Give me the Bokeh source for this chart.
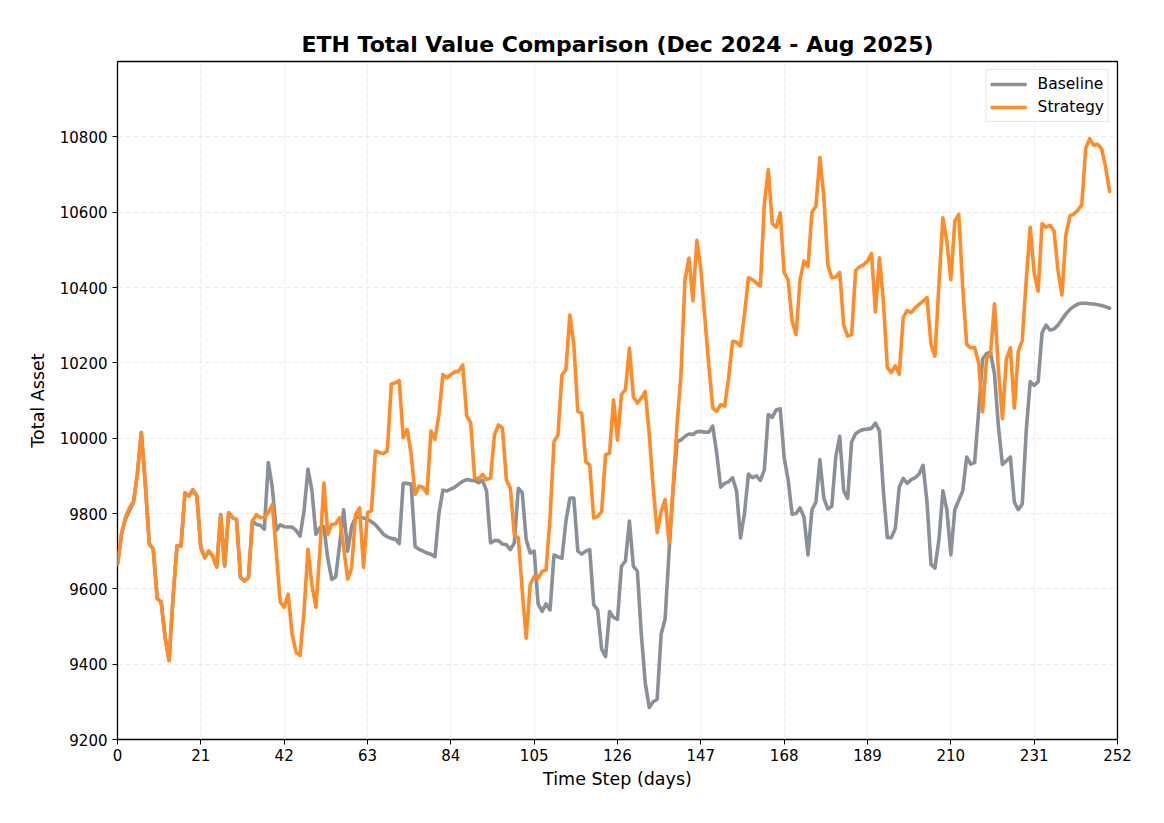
from bokeh.plotting import figure
from bokeh.models import Range1d, FixedTicker, Legend, LegendItem
from bokeh.embed import file_html
from bokeh.resources import INLINE

days = list(range(251))

baseline = [
    9665, 9745, 9785, 9808, 9828, 9905, 10015, 9880, 9720, 9705,
    9575, 9565, 9471, 9410, 9577, 9714, 9714, 9855, 9846, 9863,
    9846, 9709, 9683, 9700, 9687, 9658, 9797, 9661, 9802, 9789,
    9784, 9630, 9621, 9630, 9780, 9771, 9769, 9758, 9935, 9870,
    9755, 9770, 9765, 9764, 9764, 9755, 9740, 9806, 9918, 9860,
    9745, 9762, 9765, 9680, 9625, 9632, 9720, 9810, 9700, 9765,
    9790, 9790, 9788, 9785, 9778, 9770, 9758, 9745, 9738, 9734,
    9732, 9720, 9880, 9880, 9878, 9712, 9705, 9700, 9695, 9692,
    9685, 9800, 9862, 9860, 9865, 9870, 9878, 9885, 9890, 9888,
    9887, 9882, 9888, 9860, 9722, 9728, 9728, 9719, 9717, 9704,
    9722, 9867, 9855, 9730, 9695, 9700, 9560, 9540, 9560, 9544,
    9690, 9685, 9681, 9779, 9841, 9841, 9700, 9692, 9700, 9704,
    9558, 9544, 9440, 9420, 9540, 9524, 9519, 9660, 9674, 9780,
    9660, 9647, 9480, 9350, 9285, 9300, 9307, 9480, 9520, 9700,
    9860, 9991, 9995, 10005, 10011, 10010, 10017, 10018, 10016, 10016,
    10032, 9960, 9870, 9880, 9884, 9895, 9860, 9735, 9800, 9905,
    9895, 9900, 9888, 9915, 10063, 10055, 10075, 10078, 9948, 9890,
    9798, 9800, 9815, 9790, 9690, 9810, 9830, 9943, 9840, 9812,
    9819, 9950, 10005, 9860, 9840, 9990, 10012, 10019, 10023, 10024,
    10026, 10040, 10020, 9860, 9736, 9736, 9760, 9870, 9893, 9880,
    9890, 9895, 9905, 9928, 9830, 9665, 9655, 9730, 9860, 9810,
    9690, 9810, 9835, 9860, 9950, 9931, 9935, 10070, 10210, 10225,
    10228, 10170, 10030, 9930, 9940, 9950, 9830, 9810, 9825, 10020,
    10150, 10140, 10150, 10280, 10300, 10287, 10290, 10300, 10315, 10330,
    10342, 10350, 10356, 10358, 10358, 10357, 10356, 10354, 10352, 10349,
    10345,
]

strategy = [
    9665, 9745, 9790, 9815, 9830, 9905, 10015, 9880, 9720, 9705,
    9575, 9565, 9471, 9410, 9577, 9714, 9714, 9855, 9846, 9863,
    9846, 9709, 9683, 9700, 9687, 9658, 9797, 9661, 9802, 9789,
    9784, 9630, 9621, 9630, 9780, 9797, 9789, 9790, 9802, 9824,
    9700, 9565, 9551, 9586, 9480, 9432, 9423, 9540, 9705, 9610,
    9551, 9700, 9881, 9745, 9771, 9773, 9789, 9709, 9626, 9656,
    9797, 9815, 9657, 9803, 9807, 9966, 9962, 9959, 9966, 10143,
    10147, 10153, 10001, 10023, 9957, 9851, 9873, 9869, 9853, 10019,
    9997, 10063, 10169, 10160, 10169, 10176, 10178, 10194, 10059, 10041,
    9895, 9891, 9904, 9890, 9894, 10009, 10035, 10027, 9889, 9867,
    9743, 9735, 9593, 9469, 9611, 9633, 9628, 9646, 9650, 9788,
    9991, 10009, 10168, 10181, 10327, 10248, 10071, 10066, 9938, 9929,
    9788, 9792, 9805, 9956, 9960, 10102, 9995, 10116, 10129, 10239,
    10110, 10093, 10107, 10124, 10010, 9868, 9749, 9806, 9837, 9722,
    9868, 10036, 10169, 10420, 10478, 10365, 10525, 10450, 10320, 10195,
    10080, 10071, 10089, 10085, 10160, 10257, 10255, 10245, 10330, 10426,
    10421, 10412, 10404, 10620, 10713, 10570, 10560, 10598, 10440, 10420,
    10310, 10275, 10420, 10470, 10455, 10600, 10616, 10745, 10640, 10460,
    10426, 10428, 10440, 10300, 10271, 10275, 10445, 10455, 10460, 10470,
    10490, 10335, 10479, 10364, 10187, 10174, 10192, 10170, 10320, 10339,
    10333, 10346, 10355, 10364, 10373, 10249, 10218, 10408, 10585, 10523,
    10421, 10576, 10594, 10400, 10249, 10240, 10240, 10200, 10070, 10210,
    10225, 10357, 10180, 10052, 10210, 10240, 10080, 10230, 10260, 10420,
    10560, 10440, 10390, 10570, 10560, 10565, 10550, 10445, 10380, 10540,
    10590, 10595, 10605, 10620, 10770, 10795, 10778, 10780, 10768, 10720,
    10655,
]

x_ticks = [0, 21, 42, 63, 84, 105, 126, 147, 168, 189, 210, 231, 252]
y_ticks = [9200, 9400, 9600, 9800, 10000, 10200, 10400, 10600, 10800]

FONT = "DejaVu Sans"

p = figure(
    width=1156, height=813,
    output_backend="svg", toolbar_location=None,
    x_range=Range1d(0, 252), y_range=Range1d(9200, 11000),
    min_border_left=117, min_border_right=39,
    min_border_top=61, min_border_bottom=74,
    title="ETH Total Value Comparison (Dec 2024 - Aug 2025)",
)
p.title.align = "center"
p.title.text_font = FONT
p.title.text_font_size = "22px"
p.title.text_font_style = "bold"
p.title.text_color = "black"
p.title.standoff = 9

p.outline_line_color = "black"
p.outline_line_width = 1.3
p.outline_line_alpha = 1.0

for ax in (p.xaxis[0], p.yaxis[0]):
    ax.axis_line_color = None
    ax.major_tick_line_color = "black"
    ax.major_tick_line_width = 1
    ax.major_tick_out = 5
    ax.major_tick_in = 0
    ax.minor_tick_line_color = None
    ax.major_label_text_font = FONT
    ax.major_label_text_font_size = "15px"
    ax.major_label_text_color = "black"
    ax.axis_label_text_font = FONT
    ax.axis_label_text_font_size = "17.5px"
    ax.axis_label_text_font_style = "normal"
    ax.axis_label_text_color = "black"

p.xaxis.ticker = FixedTicker(ticks=x_ticks)
p.yaxis.ticker = FixedTicker(ticks=y_ticks)
p.xaxis.axis_label = "Time Step (days)"
p.yaxis.axis_label = "Total Asset"
p.xaxis.major_label_standoff = 4
p.yaxis.major_label_standoff = 5
p.xaxis.axis_label_standoff = 5
p.yaxis.axis_label_standoff = 9

p.xgrid.ticker = FixedTicker(ticks=x_ticks)
p.ygrid.ticker = FixedTicker(ticks=y_ticks)
for g in (p.xgrid[0], p.ygrid[0]):
    g.grid_line_color = "#dcdcdc"
    g.grid_line_alpha = 0.55
    g.grid_line_dash = "5 3"
    g.grid_line_width = 1

r_base = p.line(days, baseline, line_color="#8a9098", line_width=3.6,
                line_alpha=1.0, line_join="round", line_cap="round")
r_strat = p.line(days, strategy, line_color="#ff8c28", line_width=3.6,
                 line_alpha=1.0, line_join="round", line_cap="round")

legend = Legend(items=[
    LegendItem(label="Baseline", renderers=[r_base]),
    LegendItem(label="Strategy", renderers=[r_strat]),
], location="top_right")
legend.label_text_font = FONT
legend.label_text_font_size = "15.5px"
legend.label_text_color = "black"
legend.border_line_color = "#cccccc"
legend.border_line_width = 1
legend.background_fill_alpha = 0.85
legend.margin = 8
legend.padding = 4
legend.spacing = 3
legend.glyph_width = 36
legend.glyph_height = 20
legend.label_standoff = 11
p.add_layout(legend)

open("out.html", "w").write(file_html(p, INLINE))
